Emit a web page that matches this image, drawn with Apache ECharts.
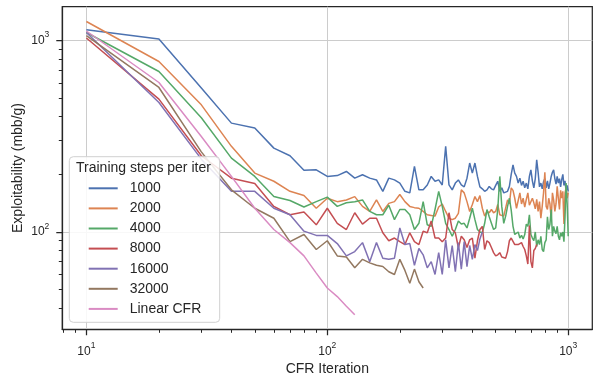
<!DOCTYPE html>
<html>
<head>
<meta charset="utf-8">
<script src="https://cdn.jsdelivr.net/npm/echarts@6/dist/echarts.min.js"></script>
<style>
  html, body { margin: 0; padding: 0; background: #fff; }
  #chart { width: 600px; height: 375px; }
</style>
</head>
<body>
<div id="chart"></div>
<script>
// CFR iteration (x) shared by every run
const iters = [10, 20, 30, 40, 50, 60, 70, 80, 90, 100,
  110, 120, 130, 140, 150, 160, 170, 180, 190, 200,
  210, 220, 230, 240, 250, 260, 270, 280, 290, 300,
  310, 320, 330, 340, 350, 360, 370, 380, 390, 400,
  410, 420, 430, 440, 450, 460, 470, 480, 490, 500,
  510, 520, 530, 540, 550, 560, 570, 580, 590, 600,
  610, 620, 630, 640, 650, 660, 670, 680, 690, 700,
  710, 720, 730, 740, 750, 760, 770, 780, 790, 800,
  810, 820, 830, 840, 850, 860, 870, 880, 890, 900,
  910, 920, 930, 940, 950, 960, 970, 980, 990, 1000];

// exploitability (mbb/g)
const steps1000 = [1136, 1016, 565, 370, 349, 274, 250, 210, 211, 195,
  197, 207, 191, 199, 191, 187, 163, 191, 187, 180,
  163, 160, 220, 166, 166, 176, 195, 184, 187, 176,
  280, 176, 166, 180, 187, 176, 172, 191, 229, 203,
  229, 195, 172, 168, 163, 166, 173, 168, 166, 175,
  184, 163, 170, 160, 157, 163, 173, 200, 224, 203,
  195, 180, 191, 175, 184, 170, 180, 168, 195, 211,
  185, 170, 190, 238, 205, 172, 180, 168, 183, 190,
  170, 185, 168, 180, 195, 205, 211, 190, 178, 195,
  180, 190, 172, 188, 200, 175, 185, 163, 175, 163];

const steps2000 = [1255, 776, 461, 280, 203, 184, 163, 155, 133, 150,
  144, 147, 153, 136, 128, 147, 128, 141, 144, 157,
  144, 136, 134, 133, 128, 123, 122, 121, 135, 140,
  128, 118, 116, 118, 125, 166, 160, 144, 128, 139,
  153, 144, 155, 133, 121, 128, 126, 131, 126, 128,
  139, 123, 125, 121, 123, 147, 140, 170, 165, 150,
  133, 146, 160, 140, 150, 135, 148, 160, 138, 136,
  150, 142, 132, 148, 128, 144, 118, 136, 160, 205,
  136, 131, 150, 140, 116, 160, 147, 128, 140, 173,
  150, 131, 165, 150, 163, 110, 160, 170, 150, 160];

const steps4000 = [1100, 688, 395, 243, 195, 153, 146, 135, 144, 152,
  136, 142, 144, 147, 128, 123, 123, 138, 116, 131,
  131, 123, 103, 111, 144, 109, 107, 131, 163, 136,
  111, 103, 95, 103, 114, 110, 111, 105, 118, 133,
  116, 103, 100, 99, 111, 131, 120, 111, 103, 105,
  131, 195, 136, 111, 121, 136, 150, 130, 107, 97,
  95, 100, 93, 96, 92, 97, 110, 107, 123, 97,
  93, 90, 100, 84, 91, 86, 95, 81, 79, 88,
  91, 120, 103, 110, 131, 95, 107, 101, 98, 107,
  95, 91, 99, 95, 100, 89, 120, 180, 140, 95];

const steps8000 = [1030, 494, 250, 191, 179, 136, 123, 127, 109, 133,
  111, 103, 126, 110, 118, 118, 99, 90, 93, 89,
  86, 99, 89, 86, 101, 99, 114, 93, 93, 89,
  93, 126, 103, 99, 83, 95, 91, 83, 91, 93,
  73, 90, 103, 107, 81, 90, 88, 83, 78, 75,
  76, 78, 74, 75, 73, 79, 90, 93, 91, 86,
  88, 86, 84, 88, 84, 81, 75, 68, 108, 70,
  65, 80, 82, 86];

const steps16000 = [1100, 474, 240, 163, 163, 133, 123, 101, 96, 96,
  87, 75, 79, 88, 70, 88, 73, 72, 73, 105,
  86, 87, 67, 82, 76, 65, 70, 60, 78, 60,
  91, 65, 85, 62, 88, 64, 89, 66, 85, 72,
  86, 80, 92, 100];

const steps32000 = [1060, 568, 262, 166, 133, 118, 89, 97, 81, 90,
  75, 74, 65, 72, 69, 67, 66, 62, 60, 72,
  63, 54, 64, 55, 51];

const linearCFR = [1120, 603, 315, 195, 133, 103, 88, 75, 61, 51,
  46, 41, 37];

const seriesNames = ['1000', '2000', '4000', '8000', '16000', '32000', 'Linear CFR'];
const seriesValues = [steps1000, steps2000, steps4000, steps8000, steps16000, steps32000, linearCFR];
const colors = ['#4c72b0', '#dd8452', '#55a868', '#c44e52', '#8172b3', '#937860', '#da8bc3'];

// tick positions
const xMajorTicks = [10, 100, 1000];
const xMinorTicks = [8, 9, 20, 30, 40, 50, 60, 70, 80, 90, 200, 300, 400, 500, 600, 700, 800, 900];
const yMajorTicks = [100, 1000];
const yMinorTicks = [40, 50, 60, 70, 80, 90, 200, 300, 400, 500, 600, 700, 800, 900];

const xMin = Math.pow(10, 0.9), xMax = Math.pow(10, 3.1);
const yMin = Math.pow(10, 1.492), yMax = Math.pow(10, 3.176);

const ink = '#262626';
const font = 'Liberation Sans';

const powLabel = {
  formatter: (v) => '{a|10}{b|' + Math.round(Math.log10(v)) + '}',
  rich: {
    a: { fontSize: 12, lineHeight: 20, color: ink, fontFamily: font },
    b: { fontSize: 8.5, lineHeight: 10, verticalAlign: 'top', color: ink, fontFamily: font }
  }
};

const chart = echarts.init(document.getElementById('chart'), null, { renderer: 'canvas' });

const option = {
  animation: false,
  textStyle: { fontFamily: font, color: ink },
  grid: {
    left: 62.3, right: 7.7, top: 6.7, bottom: 45.7,
    outerBoundsMode: 'none',
    show: true, borderColor: ink, borderWidth: 1.25, backgroundColor: 'transparent'
  },
  title: {
    text: 'Training steps per iter',
    left: 76, top: 161,
    padding: 0,
    textStyle: { fontSize: 14, fontWeight: 'normal', color: ink, fontFamily: font }
  },
  legend: {
    orient: 'vertical',
    left: 69.3, top: 156.7,
    padding: [24.6, 18.4, 6.4, 18.4],
    itemWidth: 29, itemHeight: 14, itemGap: 6.1,
    backgroundColor: 'rgba(255,255,255,0.85)',
    borderColor: '#d0d0d0', borderWidth: 1, borderRadius: 4,
    itemStyle: { opacity: 0, color: 'rgba(0,0,0,0)' },
    textStyle: { fontSize: 14, color: ink, fontFamily: font, padding: [0, 0, 0, 7] },
    data: seriesNames
  },
  xAxis: [
    {
      type: 'log', min: xMin, max: xMax,
      name: 'CFR Iteration', nameLocation: 'middle', nameGap: 32,
      nameTextStyle: { fontSize: 14, color: ink, fontFamily: font },
      axisLine: { show: true, onZero: false, lineStyle: { color: ink, width: 1.25 } },
      axisTick: { show: true, length: 6, customValues: xMajorTicks, lineStyle: { color: ink, width: 1.25 } },
      axisLabel: Object.assign({ margin: 12, customValues: xMajorTicks }, powLabel),
      splitLine: { show: true, lineStyle: { color: '#cccccc', width: 1 } }
    },
    {
      type: 'log', min: xMin, max: xMax, position: 'bottom',
      axisLine: { show: false, onZero: false },
      axisTick: { show: true, length: 3.5, customValues: xMinorTicks, lineStyle: { color: ink, width: 1 } },
      axisLabel: { show: false },
      splitLine: { show: false }
    }
  ],
  yAxis: [
    {
      type: 'log', min: yMin, max: yMax,
      name: 'Exploitability (mbb/g)', nameLocation: 'middle', nameGap: 37.5,
      nameMoveOverlap: false,
      nameTextStyle: { fontSize: 14, color: ink, fontFamily: font },
      axisLine: { show: true, onZero: false, lineStyle: { color: ink, width: 1.25 } },
      axisTick: { show: true, length: 6, customValues: yMajorTicks, lineStyle: { color: ink, width: 1.25 } },
      axisLabel: Object.assign({ margin: 13, customValues: yMajorTicks }, powLabel),
      splitLine: { show: true, lineStyle: { color: '#cccccc', width: 1 } }
    },
    {
      type: 'log', min: yMin, max: yMax, position: 'left',
      axisLine: { show: false, onZero: false },
      axisTick: { show: true, length: 3.5, customValues: yMinorTicks, lineStyle: { color: ink, width: 1 } },
      axisLabel: { show: false },
      splitLine: { show: false }
    }
  ],
  series: seriesNames.map((name, k) => ({
    name: name,
    type: 'line',
    xAxisIndex: 0,
    yAxisIndex: 0,
    symbol: 'none',
    color: colors[k],
    lineStyle: { width: 1.5, color: colors[k] },
    emphasis: { disabled: true },
    data: seriesValues[k].map((v, i) => [iters[i], v])
  }))
};

chart.setOption(option);
</script>
</body>
</html>
